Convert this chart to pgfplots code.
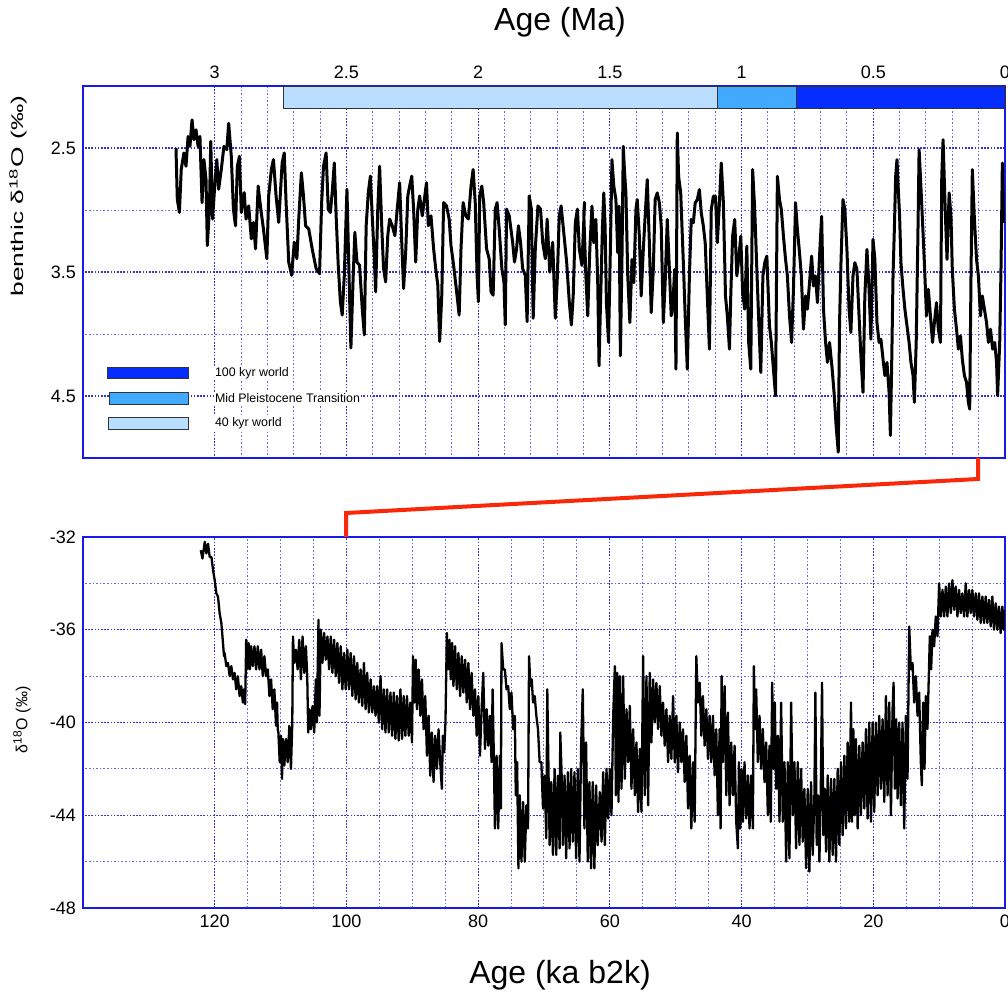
\documentclass[border=0pt]{standalone}
\usepackage{pgfplots}
\pgfplotsset{compat=1.18}
\usepackage{fontspec}
\setmainfont{Liberation Sans}
\definecolor{gridc}{RGB}{50,50,215}
\definecolor{gridm}{RGB}{105,105,228}
\definecolor{axc}{RGB}{25,25,235}
\definecolor{dkb}{RGB}{5,45,255}
\definecolor{mdb}{RGB}{65,170,255}
\definecolor{ltb}{RGB}{185,222,255}
\definecolor{redl}{RGB}{250,40,10}
\pgfplotsset{
 common/.style={
  scale only axis, width=461pt,
  axis line style={axc, line width=0.8pt},
  grid=both,
  major grid style={gridc, dash pattern=on 0.8pt off 0.8pt, line width=0.6pt},
  minor grid style={gridm, dash pattern=on 0.8pt off 1pt, line width=0.5pt},
  major tick length=0pt, minor tick length=0pt,
  ticklabel style={font=\fontsize{9}{10}\selectfont},
  /pgf/number format/assume math mode=true,
 }
}
\begin{document}
\begin{tikzpicture}
\path[use as bounding box] (0,0) rectangle (504pt,499pt);
% ---------------- top panel ----------------
\begin{axis}[common, at={(41.5pt,270pt)}, anchor=south west, height=186pt,
  xmin=0, xmax=3.5, x dir=reverse, ymin=2, ymax=5, y dir=reverse,
  xtick={0,0.5,1,1.5,2,2.5,3}, minor x tick num=4,
  xticklabel pos=top,
  ytick={2.5,3.5,4.5}, minor ytick={3,4}]
\addplot[fill=ltb, draw=black!80, line width=0.5pt] coordinates {(2.739,2.0) (1.092,2.0) (1.092,2.18) (2.739,2.18)} -- cycle;
\addplot[fill=mdb, draw=black!80, line width=0.5pt] coordinates {(1.092,2.0) (0.792,2.0) (0.792,2.18) (1.092,2.18)} -- cycle;
\addplot[fill=dkb, draw=black!80, line width=0.5pt] coordinates {(0.792,2.0) (0.0,2.0) (0.0,2.18) (0.792,2.18)} -- cycle;
\addplot[fill=dkb, draw=black!80, line width=0.5pt] coordinates {(3.408,4.273) (3.100,4.273) (3.100,4.362) (3.408,4.362)} -- cycle;
\addplot[fill=mdb, draw=black!80, line width=0.5pt] coordinates {(3.400,4.468) (3.100,4.468) (3.100,4.565) (3.400,4.565)} -- cycle;
\addplot[fill=ltb, draw=black!80, line width=0.5pt] coordinates {(3.404,4.670) (3.100,4.670) (3.100,4.767) (3.404,4.767)} -- cycle;
\node[anchor=west, fill=white, inner sep=0.5pt, font=\fontsize{6.2}{7}\selectfont] at (axis cs:3.004,4.314) {100 kyr world};
\node[anchor=west, fill=white, inner sep=0.5pt, font=\fontsize{6.2}{7}\selectfont] at (axis cs:3.004,4.516) {Mid Pleistocene Transition};
\node[anchor=west, fill=white, inner sep=0.5pt, font=\fontsize{6.2}{7}\selectfont] at (axis cs:3.004,4.719) {40 kyr world};
\addplot[black, line width=1.5pt, line join=round] table {
3.147 2.500
3.142 2.913
3.134 3.020
3.127 2.673
3.117 2.540
3.109 2.647
3.101 2.407
3.094 2.487
3.086 2.273
3.079 2.433
3.071 2.353
3.063 2.487
3.056 2.407
3.048 2.940
3.041 2.593
3.033 2.753
3.028 3.287
3.020 2.993
3.015 2.447
3.008 3.073
3.000 2.807
2.992 2.593
2.985 2.833
2.975 2.673
2.965 2.487
2.954 2.513
2.947 2.300
2.937 2.567
2.929 2.993
2.921 3.127
2.914 2.647
2.906 2.567
2.899 3.020
2.888 2.860
2.881 3.073
2.871 2.967
2.861 3.233
2.853 3.100
2.845 3.313
2.835 2.807
2.825 2.993
2.815 3.153
2.802 3.393
2.795 2.887
2.785 2.673
2.777 2.593
2.767 2.887
2.757 3.100
2.744 2.620
2.736 2.540
2.729 2.940
2.719 3.420
2.708 3.527
2.698 3.260
2.688 3.393
2.681 3.073
2.671 2.700
2.663 2.887
2.655 3.127
2.643 3.153
2.630 3.313
2.615 3.473
2.602 3.513
2.594 2.940
2.587 2.647
2.577 2.540
2.569 2.993
2.561 3.020
2.554 2.860
2.546 2.620
2.539 3.047
2.531 3.447
2.523 3.740
2.516 3.847
2.508 3.527
2.498 2.833
2.491 3.447
2.483 4.113
2.475 3.580
2.468 3.180
2.460 3.420
2.450 3.447
2.440 3.793
2.432 4.007
2.425 3.127
2.417 2.860
2.409 2.727
2.402 3.047
2.394 3.393
2.389 3.660
2.381 2.993
2.374 2.647
2.366 3.127
2.359 3.473
2.351 3.580
2.343 3.207
2.336 3.073
2.326 3.127
2.316 3.207
2.306 2.967
2.298 2.780
2.290 3.260
2.283 3.633
2.275 3.340
2.267 2.887
2.260 2.807
2.252 2.727
2.245 2.993
2.237 3.420
2.229 2.993
2.222 2.887
2.212 3.047
2.204 2.913
2.196 2.780
2.189 3.127
2.179 3.047
2.169 3.313
2.161 3.473
2.153 3.607
2.146 4.060
2.138 3.687
2.131 2.940
2.120 2.967
2.110 3.073
2.103 3.287
2.093 3.447
2.083 3.633
2.072 3.847
2.065 3.313
2.057 2.940
2.047 3.047
2.037 3.073
2.027 2.807
2.019 2.673
2.011 2.940
2.004 3.527
1.999 3.740
1.994 2.887
1.986 2.807
1.979 2.940
1.968 3.313
1.958 3.393
1.951 3.660
1.943 3.687
1.935 2.993
1.928 2.940
1.920 3.153
1.910 3.473
1.902 3.580
1.897 3.927
1.892 2.993
1.882 3.047
1.869 3.260
1.862 3.420
1.854 3.313
1.847 3.127
1.839 3.260
1.831 3.473
1.821 3.527
1.814 3.900
1.806 2.887
1.798 2.993
1.791 3.873
1.783 3.313
1.773 2.967
1.763 2.993
1.755 3.260
1.745 3.393
1.738 3.073
1.728 3.500
1.717 3.260
1.707 3.873
1.700 3.580
1.692 3.047
1.685 2.967
1.675 3.180
1.664 3.420
1.654 3.740
1.646 3.927
1.639 3.687
1.631 3.100
1.623 2.993
1.616 3.313
1.606 3.447
1.596 2.940
1.599 3.023
1.591 3.532
1.584 3.854
1.576 3.318
1.568 2.969
1.561 3.264
1.553 3.076
1.546 3.586
1.541 4.256
1.536 3.800
1.528 3.130
1.523 2.862
1.518 3.130
1.513 3.747
1.505 4.068
1.498 3.318
1.492 2.594
1.485 2.808
1.477 2.916
1.470 3.344
1.465 2.969
1.460 4.176
1.454 3.398
1.449 2.487
1.444 2.701
1.439 2.862
1.432 3.532
1.424 3.908
1.416 3.398
1.409 3.586
1.401 2.996
1.396 2.916
1.388 3.211
1.381 3.693
1.373 3.318
1.366 3.050
1.358 2.755
1.350 3.264
1.343 3.827
1.335 3.479
1.328 2.916
1.320 2.862
1.312 2.942
1.305 3.130
1.297 3.908
1.290 3.586
1.282 3.076
1.274 3.479
1.267 3.854
1.259 3.693
1.254 3.479
1.249 4.283
1.244 2.379
1.239 2.728
1.231 2.862
1.221 3.425
1.214 3.854
1.206 4.283
1.198 3.532
1.191 3.076
1.183 3.103
1.176 2.942
1.168 2.916
1.160 2.835
1.153 3.023
1.145 3.130
1.138 3.264
1.130 3.693
1.122 4.122
1.115 2.996
1.107 2.889
1.099 2.889
1.092 3.264
1.084 2.942
1.077 2.621
1.069 2.942
1.061 3.693
1.054 3.854
1.046 4.122
1.041 3.693
1.034 3.211
1.026 3.076
1.018 3.532
1.011 3.398
1.003 3.211
0.996 3.666
0.988 3.800
0.980 3.291
0.973 4.068
0.965 4.283
0.958 2.674
0.950 2.996
0.942 3.479
0.935 3.881
0.927 4.310
0.919 3.532
0.912 3.425
0.904 3.371
0.894 3.934
0.887 4.068
0.879 4.283
0.871 4.497
0.864 2.728
0.856 2.916
0.849 2.996
0.841 3.211
0.833 3.398
0.826 3.532
0.818 3.854
0.810 4.068
0.803 3.639
0.795 2.942
0.788 3.157
0.780 3.344
0.773 3.532
0.765 3.961
0.757 3.693
0.750 3.800
0.742 3.586
0.734 3.371
0.727 3.613
0.719 3.532
0.712 3.747
0.704 3.371
0.696 3.050
0.689 3.800
0.681 4.068
0.674 4.229
0.666 4.068
0.656 4.283
0.648 4.497
0.641 4.739
0.633 4.953
0.628 3.908
0.623 3.452
0.615 2.916
0.608 2.996
0.600 3.318
0.592 3.800
0.585 3.988
0.577 3.532
0.570 3.425
0.562 3.479
0.554 3.854
0.547 4.176
0.539 4.471
0.532 3.693
0.524 3.318
0.516 3.639
0.509 4.042
0.501 3.237
0.494 3.398
0.486 3.908
0.478 4.068
0.471 4.042
0.463 4.202
0.456 4.336
0.448 4.229
0.440 4.471
0.435 4.819
0.430 4.229
0.425 3.532
0.420 3.157
0.415 2.728
0.410 2.594
0.405 2.835
0.400 3.050
0.395 3.425
0.387 3.639
0.380 3.800
0.372 3.934
0.364 4.068
0.357 4.229
0.349 4.336
0.344 4.551
0.337 4.068
0.331 3.264
0.326 2.514
0.321 2.728
0.314 3.050
0.306 3.425
0.298 3.854
0.291 3.639
0.283 3.854
0.275 4.068
0.268 3.908
0.260 3.747
0.253 3.961
0.245 4.068
0.240 2.728
0.235 2.433
0.227 2.996
0.220 3.398
0.212 2.862
0.205 3.050
0.200 3.479
0.192 3.800
0.184 3.961
0.177 4.122
0.169 4.015
0.162 4.202
0.154 4.336
0.146 4.390
0.139 4.551
0.134 4.605
0.129 3.532
0.124 2.674
0.116 3.076
0.108 3.398
0.101 3.532
0.093 3.854
0.086 3.693
0.078 3.800
0.070 3.908
0.063 4.068
0.055 3.961
0.047 4.122
0.039 4.068
0.032 4.229
0.028 4.497
0.020 4.068
0.015 3.452
0.010 2.621
0.005 3.103
};
\end{axis}
% ---------------- bottom panel ----------------
\begin{axis}[common, at={(41.5pt,45pt)}, anchor=south west, height=185.5pt,
  xmin=0, xmax=140, x dir=reverse, ymin=-48, ymax=-32,
  xtick={0,20,40,60,80,100,120}, minor x tick num=3,
  ytick={-48,-44,-40,-36,-32}, minor y tick num=1]
\addplot[black, line width=1.15pt, line join=round] table {
122.11 -32.57
121.86 -32.93
121.51 -32.21
121.26 -32.71
121.01 -32.29
120.76 -32.86
120.50 -32.86
120.25 -33.43
120.00 -33.86
119.75 -34.43
119.50 -34.57
119.25 -35.29
118.99 -35.71
118.74 -36.57
118.59 -37.14
118.49 -37.00
118.24 -37.57
117.99 -37.43
117.73 -38.00
117.48 -37.57
117.23 -38.14
116.98 -37.86
116.73 -38.57
116.48 -38.00
116.22 -38.86
115.97 -38.43
115.72 -39.14
115.57 -38.57
115.37 -39.21
115.22 -36.43
115.07 -37.71
114.86 -36.57
114.66 -37.71
114.46 -36.71
114.21 -37.57
113.96 -36.71
113.71 -37.71
113.46 -36.71
113.20 -37.71
112.95 -36.86
112.70 -38.00
112.45 -37.14
112.20 -38.00
111.94 -37.71
111.69 -38.86
111.44 -38.14
111.19 -39.43
110.94 -38.57
110.69 -40.14
110.53 -39.14
110.43 -40.29
110.33 -40.43
110.13 -41.71
109.93 -40.57
109.78 -42.43
109.63 -40.71
109.43 -41.86
109.17 -40.71
108.92 -41.71
108.67 -40.14
108.42 -42.00
108.22 -40.00
108.12 -36.29
107.92 -37.43
107.66 -36.86
107.41 -37.71
107.16 -36.43
106.91 -38.14
106.66 -36.29
106.40 -37.86
106.15 -36.71
105.95 -38.00
105.80 -40.43
105.60 -39.43
105.40 -40.29
105.15 -39.29
104.89 -40.43
104.64 -38.14
104.49 -40.00
104.24 -35.57
104.09 -39.71
103.89 -35.99
103.64 -37.43
103.38 -36.14
103.13 -37.29
102.88 -36.29
102.63 -37.71
102.38 -36.29
102.13 -37.86
101.87 -36.43
101.62 -38.00
101.37 -36.57
101.12 -38.29
100.87 -36.71
100.61 -38.57
100.36 -37.00
100.11 -38.57
99.86 -36.86
99.61 -38.57
99.36 -37.00
99.10 -38.86
98.85 -37.14
98.60 -39.00
98.35 -37.43
98.10 -39.14
97.85 -37.71
97.59 -39.29
97.34 -37.43
97.09 -39.43
96.84 -37.86
96.59 -39.57
96.33 -38.14
96.08 -39.57
95.83 -38.43
95.58 -39.71
95.33 -38.43
95.08 -40.00
94.82 -38.00
94.57 -40.29
94.32 -38.57
94.07 -40.43
93.82 -38.57
93.57 -40.43
93.31 -38.71
93.06 -40.57
92.81 -38.71
92.56 -40.71
92.31 -38.86
92.06 -40.78
91.80 -38.57
91.55 -40.71
91.30 -38.86
91.05 -40.57
90.80 -38.86
90.54 -40.57
90.29 -39.14
90.04 -40.86
89.89 -37.14
89.69 -39.14
89.49 -37.29
89.29 -39.43
89.03 -37.71
88.78 -39.71
88.53 -38.14
88.28 -40.29
88.03 -38.86
87.77 -41.43
87.52 -39.71
87.27 -42.29
87.02 -40.43
86.77 -42.57
86.52 -40.57
86.26 -42.00
86.01 -40.29
85.76 -41.71
85.51 -42.86
85.36 -40.57
85.16 -41.29
84.96 -40.00
84.75 -36.14
84.55 -37.71
84.35 -36.43
84.15 -38.14
83.95 -36.57
83.75 -38.43
83.50 -36.71
83.24 -38.57
82.99 -37.00
82.74 -38.86
82.49 -37.14
82.24 -38.71
81.98 -37.29
81.73 -39.14
81.48 -37.43
81.23 -39.43
80.98 -37.86
80.73 -39.71
80.47 -38.57
80.22 -40.57
79.97 -38.86
79.72 -41.43
79.47 -39.43
79.22 -37.86
78.96 -41.14
78.71 -39.43
78.46 -41.00
78.21 -39.71
77.96 -41.71
77.80 -38.57
77.60 -41.71
77.45 -44.57
77.20 -41.43
76.95 -44.57
76.70 -41.43
76.55 -43.71
76.45 -36.57
76.19 -37.71
75.94 -37.71
75.69 -38.57
75.44 -38.43
75.19 -39.43
74.94 -38.71
74.68 -40.29
74.43 -39.71
74.28 -43.14
74.08 -41.71
73.88 -46.29
73.68 -43.14
73.42 -46.00
73.17 -43.43
72.92 -46.00
72.67 -43.57
72.42 -44.57
72.27 -37.14
72.06 -38.43
71.86 -38.14
71.66 -39.14
71.41 -38.86
71.16 -39.71
70.91 -40.29
70.66 -41.71
70.40 -41.71
70.15 -43.71
69.90 -42.29
69.65 -44.99
69.50 -38.57
69.29 -42.57
69.14 -45.29
68.89 -42.57
68.64 -45.71
68.39 -42.00
68.14 -45.71
67.89 -42.29
67.63 -45.43
67.53 -40.43
67.33 -42.14
67.13 -45.29
66.88 -42.29
66.63 -45.86
66.37 -42.14
66.12 -45.43
65.87 -42.00
65.62 -45.14
65.37 -42.14
65.12 -45.86
64.86 -42.00
64.61 -46.00
64.36 -41.00
64.11 -38.57
63.86 -44.57
63.61 -40.86
63.35 -46.00
63.10 -42.57
62.85 -46.29
62.60 -42.57
62.35 -46.29
62.09 -42.71
61.84 -45.29
61.52 -43.00
61.26 -45.14
61.01 -42.14
60.76 -45.29
60.51 -42.00
60.25 -44.14
60.00 -42.00
59.75 -44.00
59.49 -39.71
59.24 -37.57
59.09 -43.14
58.89 -37.86
58.69 -43.43
58.48 -38.00
58.23 -42.86
57.98 -38.00
57.73 -42.43
57.47 -39.43
57.22 -41.71
56.97 -39.28
56.72 -42.86
56.46 -40.29
56.21 -43.14
55.96 -40.86
55.71 -43.86
55.45 -41.14
55.20 -43.86
54.95 -37.14
54.70 -43.14
54.44 -38.00
54.19 -43.57
53.94 -37.86
53.69 -40.86
53.43 -38.14
53.18 -40.00
52.93 -38.29
52.68 -40.28
52.42 -38.43
52.17 -40.57
51.92 -39.14
51.67 -41.00
51.41 -39.43
51.16 -41.71
50.91 -39.71
50.66 -41.57
50.40 -38.86
50.15 -41.71
49.90 -39.71
49.65 -42.14
49.39 -40.00
49.14 -41.71
48.89 -40.29
48.64 -42.57
48.38 -40.57
48.13 -43.71
47.88 -41.43
47.63 -44.57
47.37 -41.71
47.12 -44.28
46.87 -37.14
46.62 -39.14
46.36 -38.28
46.11 -40.57
45.86 -38.86
45.61 -41.00
45.35 -39.43
45.10 -41.57
44.85 -39.71
44.60 -41.71
44.34 -39.71
44.09 -42.28
43.84 -40.29
43.59 -44.00
43.33 -40.29
43.18 -44.57
43.03 -38.00
42.83 -41.71
42.57 -38.43
42.32 -43.14
42.07 -39.57
41.82 -43.57
41.57 -40.86
41.31 -43.14
41.06 -41.00
40.81 -44.28
40.56 -45.43
40.40 -41.71
40.20 -44.57
40.00 -42.00
39.80 -44.28
39.55 -41.71
39.29 -44.14
39.04 -42.28
38.79 -44.57
38.54 -42.28
38.28 -44.57
38.13 -37.57
37.93 -40.28
37.78 -38.57
37.53 -41.71
37.27 -39.71
37.02 -42.00
36.77 -40.28
36.52 -42.57
36.26 -40.86
36.01 -44.00
35.76 -41.00
35.56 -44.28
35.35 -38.28
35.15 -42.00
34.95 -39.14
34.75 -42.86
34.49 -40.57
34.24 -44.28
33.99 -39.14
33.74 -44.28
33.48 -41.71
33.23 -46.00
32.98 -41.71
32.73 -45.86
32.47 -39.14
32.22 -44.00
31.97 -41.71
31.72 -45.43
31.47 -41.71
31.21 -45.28
30.96 -42.00
30.71 -45.14
30.46 -42.86
30.20 -46.28
29.95 -42.86
29.70 -46.43
29.45 -42.57
29.19 -45.71
28.94 -43.14
28.79 -38.71
28.59 -45.28
28.38 -43.14
28.18 -46.00
27.98 -43.14
27.78 -38.28
27.58 -44.86
27.37 -42.86
27.17 -45.57
26.92 -42.28
26.67 -46.00
26.41 -42.43
26.16 -45.71
25.91 -42.43
25.66 -46.00
25.40 -42.00
25.15 -45.28
24.90 -41.71
24.65 -44.86
24.39 -41.43
24.14 -44.57
23.89 -40.86
23.64 -44.28
23.38 -39.14
23.23 -44.28
23.03 -40.28
22.83 -44.00
22.63 -40.71
22.37 -44.57
22.12 -41.00
21.87 -44.00
21.62 -40.86
21.36 -43.71
21.11 -40.28
20.86 -44.14
20.61 -40.00
20.35 -44.28
20.10 -40.00
19.85 -43.86
19.60 -40.00
19.34 -43.14
19.09 -39.71
18.84 -42.86
18.59 -39.86
18.33 -43.43
18.08 -38.86
17.83 -43.14
17.58 -39.14
17.32 -44.00
17.07 -39.43
16.92 -38.28
16.72 -42.86
16.52 -39.86
16.31 -43.28
16.06 -40.00
15.81 -43.57
15.56 -40.00
15.30 -44.57
15.05 -39.71
14.80 -42.43
14.54 -35.86
14.29 -37.71
14.04 -37.43
13.79 -39.14
13.53 -38.00
13.28 -39.71
13.03 -38.71
12.78 -41.71
12.63 -42.71
12.42 -39.14
12.22 -42.00
12.02 -38.86
11.77 -40.28
11.62 -38.57
11.41 -36.28
11.21 -37.71
11.01 -36.00
10.76 -36.71
10.51 -35.43
10.25 -36.28
10.00 -34.00
9.75 -35.43
9.49 -34.28
9.24 -35.43
8.99 -34.14
8.74 -35.43
8.49 -34.00
8.23 -35.28
7.98 -33.86
7.73 -35.14
7.48 -34.14
7.22 -35.43
6.97 -34.28
6.72 -35.28
6.47 -34.43
6.21 -35.43
5.96 -34.00
5.71 -35.43
5.45 -34.28
5.20 -35.28
4.95 -34.28
4.70 -35.43
4.44 -34.43
4.19 -35.57
3.94 -34.43
3.69 -35.71
3.43 -34.57
3.18 -35.71
2.93 -34.57
2.68 -35.71
2.42 -34.71
2.17 -35.86
1.92 -34.57
1.67 -36.00
1.41 -34.86
1.16 -36.00
0.91 -35.00
0.66 -36.14
0.40 -35.00
0.20 -36.00
0.05 -35.14
};
\end{axis}
% connector and labels
\draw[redl, line width=2pt] (489pt,270pt) -- (489pt,259.5pt) -- (173pt,242.5pt) -- (173pt,230.5pt);
\node[font=\fontsize{16}{18}\selectfont] at (280pt,488pt) {Age (Ma)};
\node[font=\fontsize{16}{18}\selectfont] at (280pt,11.5pt) {Age (ka b2k)};
\node[rotate=90, font=\fontsize{8.5}{9}\selectfont] at (9pt,401pt) {\scalebox{1.55}[1]{benthic δ\textsuperscript{18}O (‰)}};
\node[rotate=90, font=\fontsize{8}{9}\selectfont] at (11pt,139pt) {δ\textsuperscript{18}O (‰)};
\end{tikzpicture}
\end{document}
